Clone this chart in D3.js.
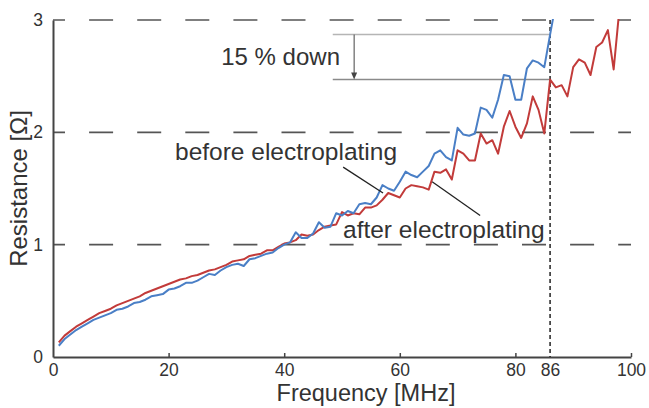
<!DOCTYPE html>
<html>
<head>
<meta charset="utf-8">
<title>Resistance vs frequency</title>
<script src="https://cdn.jsdelivr.net/npm/d3@7"></script>
<style>
  body { margin: 0; background: #fff; }
  text { font-family: "Liberation Sans", Arial, sans-serif; fill: #333; }
</style>
</head>
<body>
<svg class="chart"></svg>
<script>
// data, 1 MHz steps
var freqBefore = d3.range(1, 88);
var before = [0.10,0.16,0.20,0.24,0.27,0.30,0.33,0.35,0.37,0.39,
  0.42,0.43,0.45,0.48,0.49,0.51,0.54,0.55,0.56,0.60,
  0.61,0.63,0.66,0.66,0.68,0.71,0.74,0.73,0.77,0.80,
  0.82,0.83,0.81,0.87,0.88,0.90,0.92,0.93,0.97,1.00,
  1.02,1.11,1.06,1.06,1.10,1.20,1.15,1.16,1.28,1.26,
  1.30,1.28,1.36,1.37,1.36,1.42,1.53,1.50,1.48,1.56,
  1.65,1.62,1.60,1.65,1.70,1.81,1.84,1.78,1.75,2.04,
  1.98,1.97,1.99,2.22,2.20,2.13,2.29,2.51,2.50,2.29,
  2.29,2.57,2.64,2.62,2.58,2.87,3.15];

var freqAfter = d3.range(1, 99);
var after = [0.13,0.19,0.23,0.27,0.30,0.33,0.36,0.39,0.41,0.43,
  0.46,0.48,0.50,0.52,0.54,0.57,0.59,0.61,0.63,0.65,
  0.67,0.69,0.70,0.72,0.73,0.75,0.77,0.78,0.80,0.82,
  0.85,0.86,0.87,0.90,0.91,0.92,0.95,0.95,0.98,1.01,
  1.02,1.04,1.09,1.08,1.09,1.13,1.16,1.17,1.18,1.29,
  1.26,1.28,1.27,1.33,1.33,1.35,1.40,1.46,1.44,1.42,
  1.50,1.53,1.52,1.51,1.49,1.65,1.64,1.67,1.58,1.84,
  1.81,1.75,1.75,1.99,1.90,1.93,1.81,2.05,2.19,2.05,
  1.95,2.08,2.32,2.20,1.99,2.47,2.40,2.42,2.32,2.58,
  2.65,2.62,2.51,2.76,2.80,2.91,2.56,3.10];

var xTicks = [0, 20, 40, 60, 80, 86, 100];
var yTicks = [0, 1, 2, 3];
var gridValues = [1, 2, 3];
var cutoffFreq = 86;
var dropTop = 2.87, dropBottom = 2.47;   // the "15 % down" bracket

var width = 649, height = 408;
var svg = d3.select(".chart").attr("width", width).attr("height", height);

var x = d3.scaleLinear().domain([0, 100]).range([53, 631]);
var y = d3.scaleLinear().domain([0, 3]).range([357, 20]);

svg.append("clipPath").attr("id", "plot")
  .append("rect")
    .attr("x", x(0)).attr("y", y(3) - 1)
    .attr("width", x(100) - x(0)).attr("height", y(0) - y(3) + 1);

// dashed grid
svg.append("g").selectAll("line")
  .data(gridValues)
  .enter().append("line")
    .attr("x1", x(0)).attr("x2", x(100))
    .attr("y1", function(d) { return y(d); })
    .attr("y2", function(d) { return y(d); })
    .attr("stroke", "#555")
    .attr("stroke-width", 1.6)
    .attr("stroke-dasharray", "24,24.1")
    .attr("stroke-dashoffset", 12);

// axes
var xAxis = svg.append("g")
  .attr("transform", "translate(0," + y(0) + ")")
  .call(d3.axisBottom(x).tickValues(xTicks).tickSizeInner(-4).tickSizeOuter(0).tickPadding(7));
xAxis.selectAll(".tick line")
  .attr("stroke-opacity", function(d) { return (d == 0 || d == cutoffFreq) ? 0 : 1; });

var yAxis = svg.append("g")
  .attr("transform", "translate(" + x(0) + ",0)")
  .call(d3.axisLeft(y).tickValues(yTicks).tickFormat(d3.format("d")).tickSize(0).tickPadding(10));

[xAxis, yAxis].forEach(function(a) {
  a.select(".domain").attr("stroke", "#444").attr("stroke-width", 2);
  a.selectAll(".tick line").attr("stroke", "#444").attr("stroke-width", 1.5);
  a.selectAll(".tick text").style("font-size", "17.5px").attr("fill", "#333");
});

// vertical cut at 86 MHz
svg.append("line")
  .attr("x1", x(cutoffFreq)).attr("x2", x(cutoffFreq))
  .attr("y1", y(3)).attr("y2", y(0))
  .attr("stroke", "#222")
  .attr("stroke-width", 1.5)
  .attr("stroke-dasharray", "4,3");

// 15 % bracket
svg.append("line")
  .attr("x1", x(48.4)).attr("x2", x(cutoffFreq))
  .attr("y1", y(dropTop)).attr("y2", y(dropTop))
  .attr("stroke", "#b5b5b5").attr("stroke-width", 1.5);
svg.append("line")
  .attr("x1", x(48.4)).attr("x2", x(cutoffFreq))
  .attr("y1", y(dropBottom)).attr("y2", y(dropBottom))
  .attr("stroke", "#8a8a8a").attr("stroke-width", 1.5);

var ax = x(52.1);
svg.append("line")
  .attr("x1", ax).attr("x2", ax)
  .attr("y1", y(dropTop)).attr("y2", y(dropBottom) - 5)
  .attr("stroke", "#444").attr("stroke-width", 1);
svg.append("path")
  .attr("d", "M" + (ax - 3) + "," + (y(dropBottom) - 7) + "L" + (ax + 3) + "," + (y(dropBottom) - 7) + "L" + ax + "," + y(dropBottom) + "Z")
  .attr("fill", "#444");

// curves
var line = d3.line()
  .x(function(d) { return x(d[0]); })
  .y(function(d) { return y(d[1]); });

var curves = svg.append("g").attr("clip-path", "url(#plot)");
curves.append("path")
  .datum(d3.zip(freqAfter, after))
  .attr("d", line)
  .attr("fill", "none")
  .attr("stroke", "#c23b3a")
  .attr("stroke-width", 2)
  .attr("stroke-linejoin", "round");
curves.append("path")
  .datum(d3.zip(freqBefore, before))
  .attr("d", line)
  .attr("fill", "none")
  .attr("stroke", "#4a7fc6")
  .attr("stroke-width", 2)
  .attr("stroke-linejoin", "round");

// leader lines
svg.append("line")
  .attr("x1", x(50.2)).attr("y1", y(1.69))
  .attr("x2", x(57.1)).attr("y2", y(1.46))
  .attr("stroke", "#222").attr("stroke-width", 1.3);
svg.append("line")
  .attr("x1", x(65.6)).attr("y1", y(1.56))
  .attr("x2", x(73.9)).attr("y2", y(1.26))
  .attr("stroke", "#222").attr("stroke-width", 1.3);

// labels
svg.append("text")
  .attr("x", 340).attr("y", 65)
  .attr("text-anchor", "end")
  .style("font-size", "24px")
  .text("15 % down");
svg.append("text")
  .attr("x", 175).attr("y", 160)
  .style("font-size", "24.5px")
  .text("before electroplating");
svg.append("text")
  .attr("x", 343).attr("y", 238)
  .style("font-size", "24.5px")
  .text("after electroplating");

svg.append("text")
  .attr("x", 366).attr("y", 401)
  .attr("text-anchor", "middle")
  .style("font-size", "23.5px")
  .text("Frequency [MHz]");
svg.append("text")
  .attr("transform", "translate(27," + ((y(0) + y(3)) / 2) + ")rotate(-90)")
  .attr("text-anchor", "middle")
  .style("font-size", "24px")
  .text("Resistance [Ω]");
</script>
</body>
</html>
